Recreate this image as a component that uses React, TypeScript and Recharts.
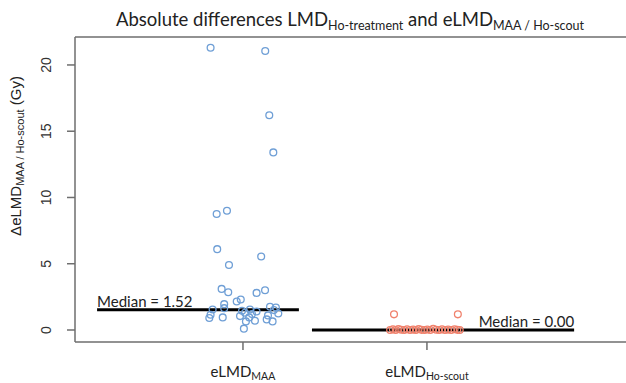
import React from 'react';
import { ScatterChart, Scatter, XAxis, YAxis, ReferenceLine } from 'recharts';

// Group positions on the x axis
const xTicks = [1, 2];
const groupLabels = ['MAA', 'Ho-scout'];
const yTicks = [0, 5, 10, 15, 20];

// eLMD_MAA group (jittered x, absolute difference in Gy)
const maaX = [0.824, 1.121, 1.143, 1.165, 0.857, 0.913, 0.86, 0.924, 1.099, 0.884, 0.92, 1.074, 1.12, 0.966, 0.988, 0.898, 0.898, 0.835, 0.824, 0.817, 0.89, 0.984, 1.038, 1.074, 1.016, 1.034, 1.065, 1.005, 1.147, 1.179, 1.192, 1.129, 1.161, 1.011, 1.049, 0.995, 1.168, 1.136];
const maaY = [21.3, 21.05, 16.2, 13.4, 8.75, 9.0, 6.1, 4.9, 5.55, 3.1, 2.85, 2.8, 3.0, 2.15, 2.3, 1.95, 1.65, 1.55, 1.15, 0.9, 0.95, 1.05, 1.55, 1.4, 0.65, 0.95, 0.7, 0.1, 1.75, 1.7, 1.25, 0.8, 0.65, 1.3, 1.2, 1.45, 1.5, 1.1];

// eLMD_Ho-scout group
const scoutX = [1.821, 2.168, 1.8, 1.815, 1.83, 1.845, 1.86, 1.876, 1.892, 1.908, 1.925, 1.94, 1.955, 1.97, 1.986, 2.002, 2.018, 2.034, 2.05, 2.066, 2.082, 2.098, 2.115, 2.132, 2.15, 2.165, 2.178];
const scoutY = [1.18, 1.18, 0.0, 0.05, 0.0, 0.08, 0.02, 0.0, 0.06, 0.0, 0.03, 0.0, 0.07, 0.01, 0.0, 0.04, 0.0, 0.09, 0.02, 0.0, 0.05, 0.0, 0.03, 0.0, 0.06, 0.01, 0.0];

// Medians and their drawn segment extents (x units)
const medianMAA = 1.52;
const medianScout = 0.0;
const medianMAARange = [0.207, 1.304];
const medianScoutRange = [1.375, 2.8];

const xDomain = [0.087, 3.082];
const yDomain = [-0.906, 22.11];

const BLUE = '#6F9FD6';
const RED = '#F0826D';
const AXIS = '#6E6E6E';

const maaData = maaX.map((x, i) => ({ x, y: maaY[i] }));
const scoutData = scoutX.map((x, i) => ({ x, y: scoutY[i] }));
const labelData = [
  { x: medianMAARange[0], y: medianMAA, text: `Median = ${medianMAA.toFixed(2)}`, anchor: 'start' },
  { x: medianScoutRange[1], y: medianScout, text: `Median = ${medianScout.toFixed(2)}`, anchor: 'end' },
];

const ring = (color: string) => (props: any) => (
  <circle cx={props.cx} cy={props.cy} r={3.4} fill="none" stroke={color} strokeWidth={1.3} />
);

const LabelShape = (props: any) => (
  <text
    x={props.cx}
    y={props.cy - 3}
    textAnchor={props.payload.anchor}
    fontFamily="Lato"
    fontSize={15}
    fill="#222"
  >
    {props.payload.text}
  </text>
);

const YTick = (props: any) => {
  const { y, payload } = props;
  const bx = 51;
  return (
    <text
      x={bx}
      y={y}
      transform={`rotate(-90 ${bx} ${y})`}
      textAnchor="middle"
      fontFamily="Liberation Sans"
      fontSize={14}
      fill="#333"
    >
      {payload.value}
    </text>
  );
};

const XTick = (props: any) => {
  const { x, payload } = props;
  const idx = xTicks.indexOf(payload.value);
  return (
    <text x={x} y={377} textAnchor="middle" fontFamily="Lato" fill="#222">
      <tspan fontSize={15}>eLMD</tspan>
      <tspan fontSize={10.5} dy={3}>{groupLabels[idx]}</tspan>
    </text>
  );
};

export default function App() {
  return (
    <div style={{ position: 'absolute', left: 0, top: 0, width: 626, height: 383, background: '#fff' }}>
      <ScatterChart width={626} height={383} margin={{ top: 37, right: 0, bottom: 0, left: 0 }}>
        <XAxis
          type="number"
          dataKey="x"
          domain={xDomain}
          ticks={xTicks}
          allowDataOverflow
          interval={0}
          height={41}
          tickSize={8}
          axisLine={{ stroke: AXIS, strokeWidth: 1.5 }}
          tickLine={{ stroke: AXIS, strokeWidth: 1.5 }}
          tick={XTick}
        />
        <YAxis
          type="number"
          dataKey="y"
          domain={yDomain}
          ticks={yTicks}
          allowDataOverflow
          interval={0}
          width={75}
          tickSize={8}
          axisLine={{ stroke: AXIS, strokeWidth: 1.5 }}
          tickLine={{ stroke: AXIS, strokeWidth: 1.5 }}
          tick={YTick}
        />
        <ReferenceLine y={yDomain[1]} stroke={AXIS} strokeWidth={1.5} ifOverflow="visible" />
        <Scatter data={maaData} shape={ring(BLUE)} isAnimationActive={false} />
        <Scatter data={scoutData} shape={ring(RED)} isAnimationActive={false} />
        <ReferenceLine
          segment={[{ x: medianMAARange[0], y: medianMAA }, { x: medianMAARange[1], y: medianMAA }]}
          stroke="#000"
          strokeWidth={3}
          ifOverflow="visible"
        />
        <ReferenceLine
          segment={[{ x: medianScoutRange[0], y: medianScout }, { x: medianScoutRange[1], y: medianScout }]}
          stroke="#000"
          strokeWidth={3}
          ifOverflow="visible"
        />
        <Scatter data={labelData} shape={LabelShape} isAnimationActive={false} />
      </ScatterChart>
      <svg
        width={626}
        height={383}
        style={{ position: 'absolute', left: 0, top: 0, pointerEvents: 'none' }}
      >
        <text x={350} y={26} textAnchor="middle" fontFamily="Lato" fill="#222">
          <tspan fontSize={18.5}>Absolute differences LMD</tspan>
          <tspan fontSize={12.5} dy={4}>Ho-treatment</tspan>
          <tspan fontSize={18.5} dy={-4}>{'  and eLMD'}</tspan>
          <tspan fontSize={12.5} dy={4}>MAA / Ho-scout</tspan>
        </text>
        <text
          transform="translate(21,156) rotate(-90)"
          textAnchor="middle"
          fontFamily="Liberation Sans"
          fill="#222"
        >
          <tspan fontSize={15}>ΔeLMD</tspan>
          <tspan fontSize={11} dy={3}>MAA / Ho-scout</tspan>
          <tspan fontSize={15} dy={-3}>{' (Gy)'}</tspan>
        </text>
      </svg>
    </div>
  );
}
